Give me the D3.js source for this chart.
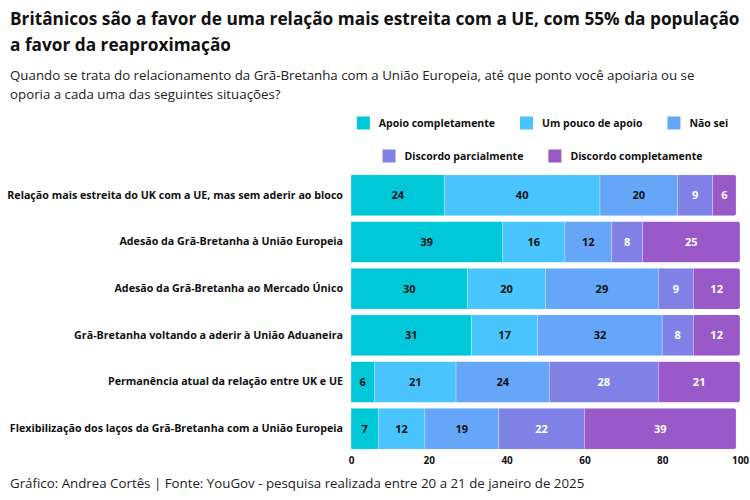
<!DOCTYPE html>
<html>
<head>
<meta charset="utf-8">
<title>Britânicos e a UE</title>
<script src="https://d3js.org/d3.v7.min.js"></script>
<style>
  body { margin: 0; background: #fff; }
  text { font-family: "Open Sans", sans-serif; }
</style>
</head>
<body>
<script>
// dados
var categories = [
  "Relação mais estreita do UK com a UE, mas sem aderir ao bloco",
  "Adesão da Grã-Bretanha à União Europeia",
  "Adesão da Grã-Bretanha ao Mercado Único",
  "Grã-Bretanha voltando a aderir à União Aduaneira",
  "Permanência atual da relação entre UK e UE",
  "Flexibilização dos laços da Grã-Bretanha com a União Europeia"
];
var seriesNames = ["Apoio completamente", "Um pouco de apoio", "Não sei", "Discordo parcialmente", "Discordo completamente"];
var apoioCompleto = [24, 39, 30, 31, 6, 7];
var apoioPouco    = [40, 16, 20, 17, 21, 12];
var naoSei        = [20, 12, 29, 32, 24, 19];
var discParcial   = [9, 8, 9, 8, 28, 22];
var discCompleto  = [6, 25, 12, 12, 21, 39];
var xTicks = [0, 20, 40, 60, 80, 100];

var colors = ["#00c8d8", "#4ac4fd", "#65a6f8", "#7f81e6", "#9a59c9"];
var textColors = ["#111", "#111", "#111", "#fff", "#fff"];

var W = 750, H = 500;
var svg = d3.select("body").append("svg").attr("width", W).attr("height", H);

// títulos (fonte mais estreita simulada com scaleX)
function titleLine(txt, y, w) {
  var g = svg.append("g");
  var t = g.append("text").attr("x", 0).attr("y", 0)
    .attr("font-weight", 700).attr("font-size", 18).attr("fill", "#111").text(txt);
  var s = w / t.node().getComputedTextLength();
  g.attr("transform", "translate(10," + y + ") scale(" + s + ",1)");
}
titleLine("Britânicos são a favor de uma relação mais estreita com a UE, com 55% da população", 25, 730);
titleLine("a favor da reaproximação", 51, 221);

var sub = svg.append("text").attr("font-size", 13.3).attr("fill", "#222");
sub.append("tspan").attr("x", 10).attr("y", 80)
  .text("Quando se trata do relacionamento da Grã-Bretanha com a União Europeia, até que ponto você apoiaria ou se");
sub.append("tspan").attr("x", 10).attr("y", 99).text("oporia a cada uma das seguintes situações?");

// escalas
var x = d3.scaleLinear().domain([0, 100]).range([351, 740]);
var y = d3.scaleBand().domain(categories).range([172, 452]).paddingInner(0.12).paddingOuter(0.06);

var series = [apoioCompleto, apoioPouco, naoSei, discParcial, discCompleto];
var rows = categories.map(function(c, i) {
  var acc = 0;
  return { cat: c, segs: series.map(function(s, k) {
    var seg = { k: k, v: s[i], x0: acc, x1: acc + s[i], cat: c };
    acc += s[i];
    return seg;
  }), total: acc };
});

// legenda
var legendRows = [[0, 1, 2], [3, 4]];
var legendY = [123, 156];
var plotMid = (x.range()[0] + x.range()[1]) / 2;
legendRows.forEach(function(idx, r) {
  var g = svg.append("g");
  var cx = 0;
  idx.forEach(function(k) {
    g.append("rect").attr("x", cx).attr("y", legendY[r] - 6.5).attr("width", 13).attr("height", 13)
      .attr("fill", colors[k]);
    var t = g.append("text").attr("x", cx + 22).attr("y", legendY[r]).attr("dy", "0.35em")
      .attr("font-size", 10.5).attr("font-weight", 700).attr("fill", "#111").text(seriesNames[k]);
    cx += 22 + t.node().getComputedTextLength() + 25;
  });
  var w = cx - 25;
  g.attr("transform", "translate(" + (plotMid - 3 - w / 2) + ",0)");
});

// barras
var defs = svg.append("defs");
var rowG = svg.selectAll("g.row").data(rows).enter().append("g").attr("class", "row");

rowG.each(function(d, i) {
  defs.append("clipPath").attr("id", "clip" + i).append("rect")
    .attr("x", x(0) - 6).attr("y", y(d.cat))
    .attr("width", x(d.total) - x(0) + 6).attr("height", y.bandwidth())
    .attr("rx", 3);
});

rowG.append("g").attr("clip-path", function(d, i) { return "url(#clip" + i + ")"; })
  .selectAll("rect").data(function(d) { return d.segs; })
  .enter().append("rect")
  .attr("x", function(s) { return x(s.x0); })
  .attr("y", function(s) { return y(s.cat); })
  .attr("width", function(s) { return x(s.x1) - x(s.x0); })
  .attr("height", y.bandwidth())
  .attr("fill", function(s) { return colors[s.k]; })
  .attr("stroke", "rgba(255,255,255,0.45)")
  .attr("stroke-width", 0.6);

rowG.selectAll("text.val").data(function(d) { return d.segs; })
  .enter().append("text").attr("class", "val")
  .attr("x", function(s) { return (x(s.x0) + x(s.x1)) / 2; })
  .attr("y", function(s) { return y(s.cat) + y.bandwidth() / 2; })
  .attr("dy", "0.35em").attr("text-anchor", "middle")
  .attr("font-size", 11).attr("font-weight", 700)
  .attr("fill", function(s) { return textColors[s.k]; })
  .text(function(s) { return s.v; });

// eixo y
svg.append("g").attr("transform", "translate(" + (x(0) - 8) + ",0)")
  .call(d3.axisLeft(y).tickSize(0).tickPadding(0))
  .call(function(g) { g.select(".domain").remove(); })
  .selectAll("text").attr("font-size", 10.7).attr("font-weight", 700).attr("fill", "#111")
  .style("font-family", "'Open Sans', sans-serif");

// eixo x
svg.append("g").attr("transform", "translate(0,451)")
  .call(d3.axisBottom(x).tickValues(xTicks).tickSize(0).tickPadding(6))
  .call(function(g) { g.select(".domain").remove(); })
  .selectAll("text").attr("font-size", 10).attr("font-weight", 700).attr("fill", "#111")
  .style("font-family", "'Open Sans', sans-serif");

// rodapé
svg.append("text").attr("x", 10).attr("y", 488).attr("font-size", 13.3).attr("fill", "#222")
  .text("Gráfico: Andrea Cortês | Fonte: YouGov - pesquisa realizada entre 20 a 21 de janeiro de 2025");
</script>
</body>
</html>
